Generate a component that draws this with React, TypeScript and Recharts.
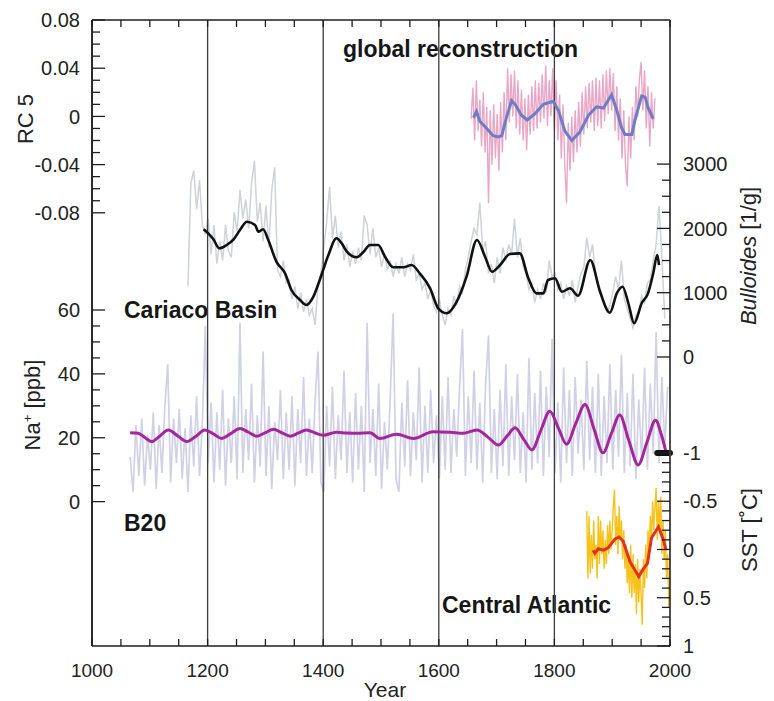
import React from 'react';
import { ComposedChart, Line, XAxis, YAxis, ReferenceLine } from 'recharts';

const FONT = "'Liberation Sans', Arial, Helvetica, sans-serif";
const AXIS = '#1e1e1e';

// B20 Na+ record (lavender), every 5 years from 1066
const NA_START = 1066;
const NA_STEP = 5;
const naRaw = [
  14, 3, 24, 8, 26, 5, 21, 10, 28, 4,
  24, 9, 30, 43, 6, 26, 12, 29, 7, 23,
  3, 27, 11, 33, 8, 25, 55, 12, 31, 6,
  28, 10, 35, 5, 26, 12, 33, 7, 56, 9,
  29, 13, 37, 6, 27, 11, 47, 8, 30, 4,
  25, 13, 35, 7, 28, 10, 33, 5, 29, 12,
  39, 8, 26, 9, 32, 47, 6, 3, 30, 11,
  36, 7, 27, 13, 41, 9, 28, 6, 34, 10,
  30, 3, 56, 12, 29, 8, 37, 4, 25, 10,
  33, 59, 7, 3, 31, 11, 38, 8, 28, 13,
  42, 6, 30, 9, 35, 12, 27, 7, 33, 10,
  39, 9, 29, 14, 36, 54, 8, 33, 12, 41,
  10, 31, 6, 37, 52, 9, 29, 7, 35, 11,
  43, 8, 33, 13, 40, 9, 28, 6, 45, 10,
  34, 12, 41, 8, 36, 14, 51, 9, 31, 6,
  42, 12, 35, 8, 39, 15, 32, 10, 44, 13,
  36, 9, 40, 8, 33, 12, 43, 10, 35, 14,
  46, 9, 34, 11, 40, 7, 32, 13, 42, 10,
  37, 15, 53, 12, 39, 17, 36,
];
// smoothed Na+ (magenta)
const naSmoothYears = [
  1066, 1080, 1092, 1103, 1117, 1132, 1148, 1164, 1180, 1195, 1210, 1224, 1240, 1256,
  1270, 1285, 1300, 1314, 1328, 1343, 1357, 1371, 1386, 1400, 1423, 1440, 1458, 1481,
  1498, 1527, 1556, 1590, 1620, 1642, 1666, 1685, 1703, 1718, 1732, 1747, 1761, 1777,
  1792, 1807, 1821, 1837, 1853, 1869, 1884, 1899, 1913, 1929, 1945, 1960, 1975, 1985, 1993,
];
const naSmooth = [
  21.6, 21.4, 20.0, 18.8, 20.5, 22.4, 20.6, 18.8, 20.5, 22.4, 21.2, 19.8, 21.3, 22.9,
  21.8, 20.5, 21.6, 22.7, 21.6, 20.5, 21.5, 22.4, 21.5, 20.8, 21.7, 21.5, 21.4, 21.6,
  19.8, 21.1, 19.8, 21.9, 21.7, 21.4, 22.4, 20.2, 17.7, 20.5, 23.1, 19.5, 16.2, 22.5,
  28.3, 23.0, 18.0, 24.5, 30.4, 22.5, 15.3, 21.5, 27.1, 19.0, 11.5, 18.5, 25.5, 21.0, 15.6,
];

// Cariaco Basin Bulloides (grey), every 5 years from 1166
const CAR_START = 1166;
const CAR_STEP = 5;
const cariacoRaw = [
  1100, 2700, 2900, 2300, 2750, 2050, 1900, 2150, 1600, 2050,
  1450, 1800, 1500, 2050, 1650, 1550, 2250, 1950, 2600, 2150,
  2450, 2000, 2700, 3050, 2100, 2400, 1800, 2350, 1700, 2600,
  2950, 1350, 1250, 1500, 1150, 1200, 900, 1100, 750, 1000,
  700, 900, 650, 750, 500, 1100, 1300, 1700, 2100, 2650,
  1850, 2200, 1700, 1950, 1500, 1750, 1400, 1650, 1450, 1700,
  1500, 2200, 2050, 1600, 2000, 1550, 1700, 1400, 1600, 1350,
  1500, 1250, 1450, 1300, 1550, 1250, 1450, 1350, 1600, 1200,
  1300, 1050, 1150, 900, 1050, 800, 700, 900, 650, 500,
  750, 650, 950, 800, 1100, 1000, 1350, 1550, 1800, 2000,
  1900, 2400, 1650, 1800, 1300, 1450, 1150, 1550, 1300, 1700,
  1500, 1750, 1600, 2150, 1550, 1850, 1400, 1300, 1050, 1150,
  850, 1050, 900, 1150, 1000, 1500, 1250, 1300, 1050, 1150,
  900, 1100, 950, 1200, 850, 1100, 1300, 1400, 1850, 1550,
  1750, 1300, 1150, 1000, 850, 700, 800, 1000, 1250, 1050,
  1500, 900, 750, 600, 450, 650, 700, 950, 850, 1150,
  1200, 1500, 1750, 2350, 1550, 600,
];
// smoothed Bulloides (black)
const carSmoothYears = [
  1193, 1201, 1210, 1220, 1233, 1245, 1256, 1268, 1282, 1288, 1296, 1305, 1319, 1334,
  1345, 1360, 1371, 1383, 1394, 1409, 1423, 1432, 1441, 1458, 1470, 1481, 1495, 1507,
  1521, 1539, 1553, 1567, 1585, 1599, 1614, 1631, 1648, 1666, 1680, 1692, 1706, 1723,
  1740, 1755, 1769, 1781, 1789, 1801, 1813, 1827, 1841, 1862, 1879, 1896, 1908, 1918,
  1928, 1938, 1951, 1962, 1971, 1978, 1981,
];
const carSmooth = [
  1986, 1923, 1830, 1690, 1742, 1830, 1975, 2104, 2053, 1948, 1986, 1819, 1482, 1301,
  1042, 886, 809, 938, 1197, 1586, 1846, 1768, 1637, 1550, 1637, 1742, 1742, 1560,
  1395, 1395, 1430, 1301, 1068, 757, 680, 860, 1249, 1819, 1560, 1326, 1430, 1602,
  1612, 1224, 990, 990, 1197, 1224, 1015, 1068, 953, 1508, 1015, 689, 990, 1093,
  835, 524, 835, 990, 1301, 1586, 1430,
];

// global reconstruction RC 5 (pink), every 3 years from 1656
const GLOB_START = 1656;
const GLOB_STEP = 3;
const globalRaw = [
  -0.002, 0.024, -0.02, 0.03, -0.012, 0.014, -0.025, 0.02, -0.03, 0.008,
  -0.072, 0.005, -0.04, 0.01, -0.035, 0.002, -0.045, 0.012, -0.03, 0.02,
  -0.02, 0.04, -0.005, 0.035, 0.0, 0.038, -0.01, 0.03, -0.015, 0.022,
  -0.02, 0.015, -0.028, 0.018, -0.015, 0.025, -0.012, 0.03, -0.01, 0.028,
  -0.005, 0.035, -0.002, 0.042, -0.008, 0.03, 0.0, 0.04, -0.012, 0.03,
  -0.02, 0.018, -0.035, 0.01, -0.04, -0.072, -0.005, -0.045, 0.0, -0.038,
  0.005, -0.03, 0.012, -0.025, 0.02, -0.015, 0.025, -0.01, 0.028, -0.005,
  0.03, -0.012, 0.032, -0.008, 0.03, -0.01, 0.035, -0.004, 0.038, 0.002,
  0.04, 0.005, 0.036, -0.012, 0.025, -0.02, 0.015, -0.035, 0.005, -0.04,
  -0.058, 0.0, -0.035, 0.008, -0.02, 0.025, 0.0, 0.03, 0.045, 0.005,
  0.038, -0.01, 0.025, -0.025, 0.02, -0.01, 0.015,
];
// smoothed RC 5 (blue)
const globSmoothYears = [
  1660, 1665, 1671, 1683, 1694, 1703, 1709, 1717, 1726, 1732, 1743, 1753, 1766, 1781,
  1798, 1807, 1818, 1830, 1844, 1859, 1873, 1885, 1890, 1899, 1908, 1916, 1922, 1934,
  1939, 1951, 1957, 1962, 1971,
];
const globSmooth = [
  -0.001, 0.004, -0.004, -0.01, -0.016, -0.017, -0.016, -0.001, 0.013, 0.01, 0.001,
  -0.003, 0.002, 0.01, 0.0125, 0.005, -0.012, -0.02, -0.013, 0.001, 0.008, 0.007,
  0.011, 0.018, 0.005, -0.009, -0.015, -0.015, -0.004, 0.017, 0.016, 0.0075, -0.002,
];

// Central Atlantic SST (yellow), every 2 years from 1856
const SST_START = 1856;
const SST_STEP = 2;
const sstRaw = [
  -0.4, 0.3, -0.35, 0.25, -0.15, 0.2, -0.3, 0.1, -0.05, 0.3,
  -0.35, 0.15, -0.3, 0.05, -0.2, 0.2, -0.1, 0.15, -0.25, 0.05,
  -0.3, 0.0, -0.2, -0.45, -0.62, -0.05, -0.35, 0.05, -0.45, -0.1,
  -0.3, 0.1, -0.2, 0.2, -0.05, 0.35, 0.1, 0.45, -0.05, 0.5,
  0.05, 0.45, 0.15, 0.67, 0.1, 0.55, 0.2, 0.45, 0.78, 0.1,
  0.4, -0.05, 0.3, -0.2, 0.1, -0.35, -0.1, -0.5, -0.2, -0.45,
  -0.64, -0.1, -0.5, -0.2, -0.55, 0.05, -0.3, 0.1, -0.2, 0.3,
  0.05, 0.6, 0.2,
];
// smoothed SST (red)
const sstSmoothYears = [
  1867, 1870, 1876, 1885, 1893, 1905, 1912, 1919, 1931, 1939, 1946, 1954, 1961, 1968,
  1980, 1988, 1993,
];
const sstSmooth = [
  0.007, 0.04, -0.007, 0.007, -0.017, -0.11, -0.13, -0.086, 0.13, 0.21, 0.28, 0.2,
  0.145, -0.12, -0.235, -0.11, 0.0,
];

// axes
const yearTicks = [
  1000, 1050, 1100, 1150, 1200, 1250, 1300, 1350, 1400, 1450, 1500,
  1550, 1600, 1650, 1700, 1750, 1800, 1850, 1900, 1950, 2000,
];
const yearLabels = [1000, 1200, 1400, 1600, 1800, 2000];
const dividers = [1200, 1400, 1600, 1800];
const rcTicks = [
  -0.08, -0.07, -0.06, -0.05, -0.04, -0.03, -0.02, -0.01, 0,
  0.01, 0.02, 0.03, 0.04, 0.05, 0.06, 0.07, 0.08,
];
const rcLabels = [-0.08, -0.04, 0, 0.04, 0.08];
const naTicks = [0, 5, 10, 15, 20, 25, 30, 35, 40, 45, 50, 55, 60];
const naLabels = [0, 20, 40, 60];
const bulTicks = [0, 250, 500, 750, 1000, 1250, 1500, 1750, 2000, 2250, 2500, 2750, 3000];
const bulLabels = [0, 1000, 2000, 3000];
const sstTicks = [
  -1, -0.9, -0.8, -0.7, -0.6, -0.5, -0.4, -0.3, -0.2, -0.1, 0,
  0.1, 0.2, 0.3, 0.4, 0.5, 0.6, 0.7, 0.8, 0.9, 1,
];
const sstLabels = [-1, -0.5, 0, 0.5, 1];

const grid = (start: number, step: number, vals: number[]) =>
  vals.map((v, i) => ({ year: start + i * step, v }));
const zip = (years: number[], vals: number[]) => years.map((y, i) => ({ year: y, v: vals[i] }));

const naData = grid(NA_START, NA_STEP, naRaw);
const naSmoothData = zip(naSmoothYears, naSmooth);
const carData = grid(CAR_START, CAR_STEP, cariacoRaw);
const carSmoothData = zip(carSmoothYears, carSmooth);
const globData = grid(GLOB_START, GLOB_STEP, globalRaw);
const globSmoothData = zip(globSmoothYears, globSmooth);
const sstData = grid(SST_START, SST_STEP, sstRaw);
const sstSmoothData = zip(sstSmoothYears, sstSmooth);

// axes are given a near-zero thickness so the two axes on each side overlap
const THIN = 0.01;

const makeYTick = (side: 'left' | 'right', labels: number[]) => (props: any) => {
  const { x, y, payload } = props;
  const major = labels.includes(payload.value);
  const dir = side === 'left' ? 1 : -1;
  return (
    <g>
      <line x1={x} x2={x + dir * (major ? 13 : 8)} y1={y} y2={y} stroke={AXIS} strokeWidth={1.3} />
      {major && (
        <text
          x={side === 'left' ? x - 12 : x + 13}
          y={y}
          dy="0.36em"
          textAnchor={side === 'left' ? 'end' : 'start'}
          fontSize={20}
          fontFamily={FONT}
          fill="#222"
        >
          {String(payload.value)}
        </text>
      )}
    </g>
  );
};

const BottomTick = (props: any) => {
  const { x, y, payload } = props;
  const major = yearLabels.includes(payload.value);
  return (
    <g>
      <line x1={x} x2={x} y1={y} y2={y - 7} stroke={AXIS} strokeWidth={1.3} />
      {major && (
        <text x={x} y={y + 31} textAnchor="middle" fontSize={19} fontFamily={FONT} fill="#222">
          {payload.value}
        </text>
      )}
    </g>
  );
};

const TopTick = (props: any) => {
  const { x, y } = props;
  return <line x1={x} x2={x} y1={y} y2={y + 7} stroke={AXIS} strokeWidth={1.3} />;
};

const noisy = { dot: false, isAnimationActive: false, type: 'linear' as const };

export default function App() {
  return (
    <ComposedChart
      width={766}
      height={693}
      margin={{ top: 12, right: 104, bottom: 55, left: 84 }}
      style={{ fontFamily: FONT }}
    >
      <XAxis
        type="number"
        dataKey="year"
        domain={[1000, 2000]}
        allowDataOverflow
        ticks={yearTicks}
        interval={0}
        height={THIN}
        tickSize={0}
        tickMargin={0}
        tick={BottomTick}
        axisLine={{ stroke: AXIS, strokeWidth: 1.5 }}
      />
      <XAxis
        xAxisId="top"
        orientation="top"
        type="number"
        dataKey="year"
        domain={[1000, 2000]}
        allowDataOverflow
        ticks={yearTicks}
        interval={0}
        height={THIN}
        tickSize={0}
        tickMargin={0}
        tick={TopTick}
        axisLine={{ stroke: AXIS, strokeWidth: 1.5 }}
      />
      <YAxis
        yAxisId="rc"
        type="number"
        domain={[-0.4395, 0.08]}
        allowDataOverflow
        ticks={rcTicks}
        interval={0}
        width={THIN}
        tickSize={0}
        tickMargin={0}
        tick={makeYTick('left', rcLabels)}
        axisLine={{ stroke: AXIS, strokeWidth: 1.5 }}
      />
      <YAxis
        yAxisId="na"
        type="number"
        domain={[-45.2, 150.8]}
        allowDataOverflow
        ticks={naTicks}
        interval={0}
        width={THIN}
        tickSize={0}
        tickMargin={0}
        tick={makeYTick('left', naLabels)}
        axisLine={{ stroke: AXIS, strokeWidth: 1.5 }}
      />
      <YAxis
        yAxisId="bul"
        orientation="right"
        type="number"
        domain={[-4495, 5241]}
        allowDataOverflow
        ticks={bulTicks}
        interval={0}
        width={THIN}
        tickSize={0}
        tickMargin={0}
        tick={makeYTick('right', bulLabels)}
        axisLine={{ stroke: '#444', strokeWidth: 1.5 }}
      />
      <YAxis
        yAxisId="sst"
        orientation="right"
        type="number"
        reversed
        domain={[-5.487, 1]}
        allowDataOverflow
        ticks={sstTicks}
        interval={0}
        width={THIN}
        tickSize={0}
        tickMargin={0}
        tick={makeYTick('right', sstLabels)}
        axisLine={{ stroke: '#444', strokeWidth: 1.5 }}
      />

      <Line data={naData} dataKey="v" yAxisId="na" stroke="#d0d1e6" strokeWidth={1.7} {...noisy} />
      <Line data={carData} dataKey="v" yAxisId="bul" stroke="#cfd2d7" strokeWidth={1.5} {...noisy} />
      <Line data={globData} dataKey="v" yAxisId="rc" stroke="#eaa6c6" strokeWidth={1.4} {...noisy} />
      <Line data={sstData} dataKey="v" yAxisId="sst" stroke="#f6c21a" strokeWidth={1.4} {...noisy} />

      {dividers.map((d) => (
        <ReferenceLine key={d} x={d} yAxisId="rc" stroke="#3c3c3c" strokeWidth={1.3} />
      ))}

      <Line data={naSmoothData} dataKey="v" yAxisId="na" stroke="#a4269c" strokeWidth={3} dot={false} type="monotone" isAnimationActive={false} />
      <Line data={carSmoothData} dataKey="v" yAxisId="bul" stroke="#111111" strokeWidth={2.6} dot={false} type="monotone" isAnimationActive={false} />
      <Line data={globSmoothData} dataKey="v" yAxisId="rc" stroke="#6b7ec4" strokeWidth={3} dot={false} type="linear" isAnimationActive={false} />
      <Line data={sstSmoothData} dataKey="v" yAxisId="sst" stroke="#e1321f" strokeWidth={3} dot={false} type="linear" isAnimationActive={false} />

      <ReferenceLine
        yAxisId="sst"
        segment={[{ x: 1978, y: -1 }, { x: 2000, y: -1 }]}
        stroke="#111"
        strokeWidth={6}
        strokeLinecap="round"
      />

      <text x={25} y={111} transform="rotate(-90 25 111)" textAnchor="middle" fontSize={22} fontFamily={FONT} fill="#222">RC 5</text>
      <text x={32} y={397} transform="rotate(-90 32 397)" textAnchor="middle" fontSize={22} fontFamily={FONT} fill="#222">
        <tspan>Na</tspan>
        <tspan dy={-8} fontSize={13}>+</tspan>
        <tspan dy={8}>{'  [ppb]'}</tspan>
      </text>
      <text x={748} y={248} transform="rotate(-90 748 248)" textAnchor="middle" fontSize={22} fontFamily={FONT} fill="#222">
        <tspan fontStyle="italic">Bulloides</tspan>
        <tspan>{'  [1/g]'}</tspan>
      </text>
      <text x={749} y={522} transform="rotate(-90 749 522)" textAnchor="middle" fontSize={22} fontFamily={FONT} fill="#222">
        {'SST  [˚C]'}
      </text>
      <text x={377} y={689} textAnchor="middle" fontSize={21} fontFamily={FONT} fill="#222">Year</text>

      <text x={335} y={49} fontSize={23} fontWeight="bold" fontFamily={FONT} fill="#161616">global reconstruction</text>
      <text x={116} y={310} fontSize={23} fontWeight="bold" fontFamily={FONT} fill="#161616">Cariaco Basin</text>
      <text x={116} y={523} fontSize={23} fontWeight="bold" fontFamily={FONT} fill="#161616">B20</text>
      <text x={434} y={605} fontSize={23} fontWeight="bold" fontFamily={FONT} fill="#161616">Central Atlantic</text>
    </ComposedChart>
  );
}
